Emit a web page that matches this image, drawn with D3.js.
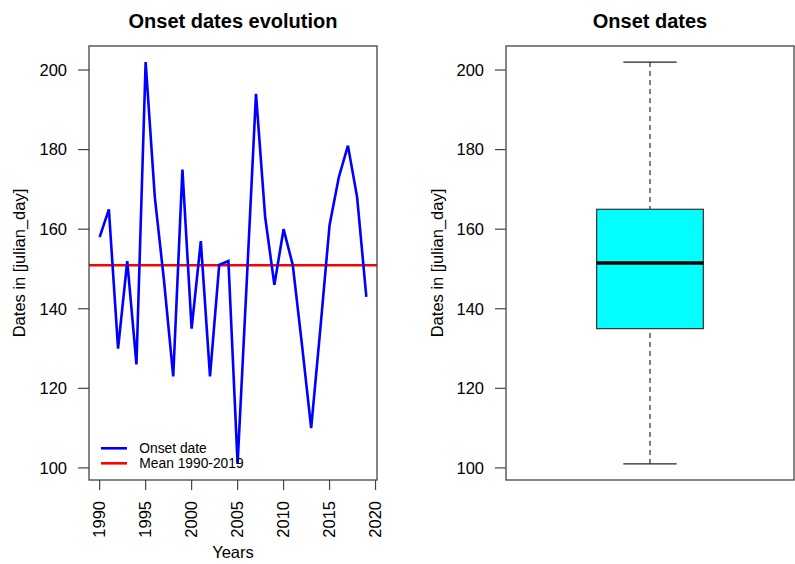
<!DOCTYPE html>
<html><head><meta charset="utf-8">
<script src="https://cdn.jsdelivr.net/npm/d3@7"></script>
<style>body{margin:0;background:#fff}svg{display:block}text{font-family:"Liberation Sans",Arial,sans-serif;fill:#000}</style>
</head><body>
<svg id="c" width="795" height="564"></svg>
<script>
const years = d3.range(1990, 2020);
const onset = [158,165,130,152,126,202,168,147,123,175,135,157,123,151,152,101,147,194,163,146,160,151,131,110,135,161,173,181,168,143];
const yTicks = [100,120,140,160,180,200];
const xTicks = [1990,1995,2000,2005,2010,2015,2020];
const titles = ["Onset dates evolution","Onset dates"];
const legendLabels = ["Onset date","Mean 1990-2019"];
const yLabel = "Dates in [julian_day]";
const xLabel = "Years";

const svg = d3.select("#c");
const F = 16.5;
const pTop = 46, pBottom = 480;
const L = {x0: 89, x1: 377};
const R = {x0: 506, x1: 794};

const ext = d3.extent(onset), pad = (ext[1]-ext[0])*0.04;
const y = d3.scaleLinear().domain([ext[0]-pad, ext[1]+pad]).range([pBottom, pTop]);
const xp = (years[years.length-1]-years[0])*0.04;
const x = d3.scaleLinear().domain([years[0]-xp, years[years.length-1]+xp]).range([L.x0, L.x1]);

function yAxis(g, x0, labelX){
  const ax = g.append("g").attr("transform",`translate(${x0-11},0)`)
    .call(d3.axisLeft(y).tickValues(yTicks).tickSize(0).tickPadding(11).tickFormat(d3.format("d")));
  ax.select(".domain").remove();
  ax.selectAll("text").attr("font-size",F).attr("font-family","Liberation Sans, Arial").attr("fill","#000");
  g.selectAll(null).data(yTicks).enter().append("line")
    .attr("x1",x0-11).attr("x2",x0).attr("y1",d=>y(d)).attr("y2",d=>y(d))
    .attr("stroke","#444").attr("stroke-width",1.2);
  g.append("text").attr("transform",`translate(${labelX},${(pTop+pBottom)/2}) rotate(-90)`)
    .attr("text-anchor","middle").attr("dy","0.35em").attr("font-size",F).text(yLabel);
}

// ---- Left panel
const gL = svg.append("g");
gL.append("text").attr("x",(L.x0+L.x1)/2).attr("y",27.5).attr("text-anchor","middle")
  .attr("font-size",20).attr("font-weight","bold").text(titles[0]);
svg.append("clipPath").attr("id","clipL").append("rect")
  .attr("x",L.x0).attr("y",pTop).attr("width",L.x1-L.x0).attr("height",pBottom-pTop);
const meanV = d3.mean(onset);
gL.append("line").attr("clip-path","url(#clipL)").attr("x1",L.x0).attr("x2",L.x1)
  .attr("y1",y(meanV)).attr("y2",y(meanV)).attr("stroke","#ff0000").attr("stroke-width",2.5);
gL.append("path").datum(years.map((yr,i)=>[yr,onset[i]]))
  .attr("d",d3.line().x(d=>x(d[0])).y(d=>y(d[1])))
  .attr("fill","none").attr("stroke","#0000ff").attr("stroke-width",2.6).attr("stroke-linejoin","miter");
gL.append("rect").attr("x",L.x0).attr("y",pTop).attr("width",L.x1-L.x0).attr("height",pBottom-pTop)
  .attr("fill","none").attr("stroke","#444").attr("stroke-width",1.3);
yAxis(gL, L.x0, 19);
// x axis
const xa = gL.append("g");
xa.selectAll(null).data(xTicks).enter().append("line")
  .attr("x1",d=>x(d)).attr("x2",d=>x(d)).attr("y1",pBottom).attr("y2",pBottom+10)
  .attr("stroke","#444").attr("stroke-width",1.2);
xa.selectAll(null).data(xTicks).enter().append("text")
  .attr("transform",d=>`translate(${x(d)},501) rotate(-90)`)
  .attr("text-anchor","end").attr("dy","0.35em").attr("font-size",F).text(d=>d);
gL.append("text").attr("x",(L.x0+L.x1)/2).attr("y",558).attr("text-anchor","middle")
  .attr("font-size",F).text(xLabel);
// legend
const legColors = ["#0000ff","#ff0000"];
const leg = gL.append("g");
legendLabels.forEach((lab,i)=>{
  const ly = 448.3 + i*15;
  leg.append("line").attr("x1",101).attr("x2",127).attr("y1",ly).attr("y2",ly)
    .attr("stroke",legColors[i]).attr("stroke-width",2.6);
  leg.append("text").attr("x",139.3).attr("y",ly).attr("dy","0.35em").attr("font-size",13.8).text(lab);
});

// ---- Right panel (boxplot)
const gR = svg.append("g");
gR.append("text").attr("x",(R.x0+R.x1)/2).attr("y",27.5).attr("text-anchor","middle")
  .attr("font-size",20).attr("font-weight","bold").text(titles[1]);
const bx = d3.scaleLinear().domain([0.46,1.54]).range([R.x0,R.x1]);
// Tukey five-number summary (as R's boxplot)
const s = onset.slice().sort((a,b)=>a-b), n = s.length;
const med = arr => { const m=arr.length; return m%2 ? arr[(m-1)/2] : (arr[m/2-1]+arr[m/2])/2; };
const nh = Math.floor((n+3)/2)/2;
const lo = (s[Math.floor(nh)-1]+s[Math.ceil(nh)-1])/2;
const hi = (s[n-Math.floor(nh)]+s[n-Math.ceil(nh)])/2;
const md = med(s), mn = s[0], mx = s[n-1];

gR.append("line").attr("x1",bx(1)).attr("x2",bx(1)).attr("y1",y(mx)).attr("y2",y(hi))
  .attr("stroke","#000").attr("stroke-width",1).attr("stroke-dasharray","5,4");
gR.append("line").attr("x1",bx(1)).attr("x2",bx(1)).attr("y1",y(mn)).attr("y2",y(lo))
  .attr("stroke","#000").attr("stroke-width",1).attr("stroke-dasharray","5,4");
[mn,mx].forEach(v=>gR.append("line").attr("x1",bx(0.9)).attr("x2",bx(1.1)).attr("y1",y(v)).attr("y2",y(v))
  .attr("stroke","#222").attr("stroke-width",1.2));
gR.append("rect").attr("x",bx(0.8)).attr("width",bx(1.2)-bx(0.8)).attr("y",y(hi)).attr("height",y(lo)-y(hi))
  .attr("fill","#00ffff").attr("stroke","#333").attr("stroke-width",1.2);
gR.append("line").attr("x1",bx(0.8)).attr("x2",bx(1.2)).attr("y1",y(md)).attr("y2",y(md))
  .attr("stroke","#000").attr("stroke-width",3.5);
gR.append("rect").attr("x",R.x0).attr("y",pTop).attr("width",R.x1-R.x0).attr("height",pBottom-pTop)
  .attr("fill","none").attr("stroke","#444").attr("stroke-width",1.3);
yAxis(gR, R.x0, 437);
</script>
</body></html>
